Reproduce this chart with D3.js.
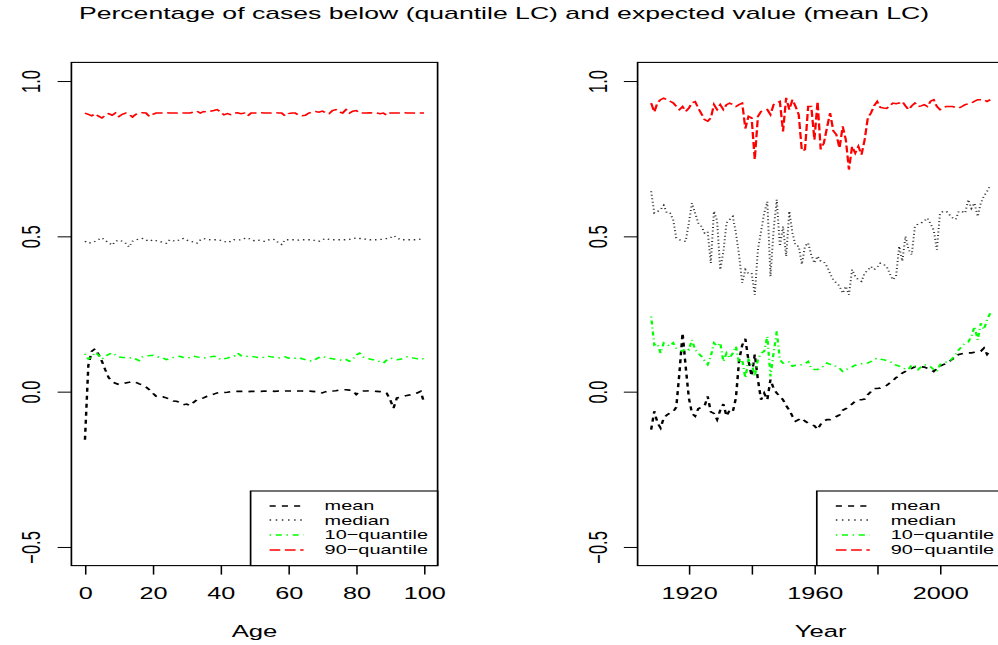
<!DOCTYPE html>
<html>
<head>
<meta charset="utf-8">
<script src="https://cdn.jsdelivr.net/npm/d3@7"></script>
<style>
  html, body { margin: 0; padding: 0; background: #fff; overflow: hidden; }
  svg text { font-family: "Liberation Sans", Arial, Helvetica, sans-serif; fill: #000; }
</style>
</head>
<body>
<svg id="chart" width="998" height="645"></svg>
<script>
// ---- data: left panel (by age) ----
const ages = d3.range(0, 101);
const ageMean = [
  -0.155, 0.085, 0.130, 0.138, 0.120, 0.098, 0.070, 0.045, 0.033, 0.027,
  0.023, 0.025, 0.028, 0.030, 0.033, 0.030, 0.025, 0.022, 0.015, 0.006,
  -0.005, -0.015, -0.018, -0.017, -0.020, -0.025, -0.030, -0.031, -0.035, -0.042,
  -0.040, -0.045, -0.035, -0.026, -0.023, -0.020, -0.015, -0.012, -0.008, -0.004,
  -0.002, -0.003, -0.002, 0.000, 0.000, 0.001, 0.001, 0.001, 0.000, 0.001,
  0.001, 0.001, 0.001, 0.002, 0.001, 0.002, 0.001, 0.002, 0.001, 0.002,
  0.002, 0.002, 0.001, 0.002, 0.002, 0.001, 0.002, 0.001, 0.000, 0.000,
  -0.004, 0.000, 0.003, 0.002, 0.003, 0.005, 0.006, 0.006, 0.005, 0.004,
  -0.009, 0.001, 0.002, 0.002, 0.003, 0.002, 0.001, 0.000, 0.001, -0.005,
  -0.026, -0.053, -0.020, -0.018, -0.015, -0.012, -0.010, -0.006, -0.004, 0.001,
  -0.035
];
const ageMedian = [
  0.484, 0.478, 0.480, 0.484, 0.490, 0.495, 0.486, 0.480, 0.472, 0.484,
  0.488, 0.484, 0.478, 0.466, 0.484, 0.488, 0.492, 0.493, 0.488, 0.484,
  0.489, 0.486, 0.484, 0.480, 0.478, 0.489, 0.486, 0.484, 0.490, 0.493,
  0.488, 0.484, 0.482, 0.478, 0.488, 0.493, 0.490, 0.489, 0.489, 0.489,
  0.487, 0.484, 0.480, 0.484, 0.489, 0.488, 0.489, 0.493, 0.495, 0.489,
  0.486, 0.488, 0.486, 0.484, 0.488, 0.491, 0.489, 0.480, 0.474, 0.489,
  0.489, 0.489, 0.489, 0.488, 0.489, 0.489, 0.489, 0.489, 0.486, 0.484,
  0.489, 0.493, 0.490, 0.489, 0.489, 0.489, 0.489, 0.489, 0.490, 0.493,
  0.495, 0.493, 0.493, 0.490, 0.489, 0.489, 0.489, 0.490, 0.491, 0.493,
  0.495, 0.502, 0.496, 0.489, 0.489, 0.489, 0.489, 0.489, 0.489, 0.491,
  0.489
];
const ageQ10 = [
  0.122, 0.105, 0.112, 0.126, 0.118, 0.105, 0.114, 0.120, 0.125, 0.118,
  0.112, 0.110, 0.110, 0.108, 0.110, 0.105, 0.100, 0.112, 0.114, 0.116,
  0.117, 0.114, 0.110, 0.108, 0.103, 0.108, 0.110, 0.112, 0.114, 0.110,
  0.108, 0.110, 0.114, 0.112, 0.110, 0.108, 0.110, 0.112, 0.114, 0.112,
  0.103, 0.106, 0.108, 0.112, 0.114, 0.124, 0.116, 0.112, 0.114, 0.114,
  0.112, 0.110, 0.108, 0.112, 0.114, 0.112, 0.110, 0.108, 0.110, 0.112,
  0.108, 0.110, 0.108, 0.110, 0.106, 0.103, 0.100, 0.098, 0.104, 0.110,
  0.114, 0.110, 0.108, 0.106, 0.104, 0.103, 0.100, 0.103, 0.098, 0.104,
  0.118, 0.124, 0.112, 0.108, 0.105, 0.103, 0.100, 0.096, 0.092, 0.102,
  0.108, 0.106, 0.103, 0.104, 0.108, 0.112, 0.110, 0.108, 0.106, 0.108,
  0.104
];
const ageQ90 = [
  0.897, 0.893, 0.888, 0.895, 0.887, 0.881, 0.890, 0.895, 0.890, 0.897,
  0.886, 0.893, 0.897, 0.893, 0.884, 0.893, 0.897, 0.898, 0.897, 0.886,
  0.893, 0.897, 0.897, 0.897, 0.898, 0.897, 0.897, 0.897, 0.896, 0.897,
  0.897, 0.897, 0.900, 0.903, 0.897, 0.902, 0.900, 0.903, 0.905, 0.908,
  0.900, 0.891, 0.895, 0.892, 0.897, 0.898, 0.895, 0.897, 0.888, 0.897,
  0.897, 0.897, 0.898, 0.897, 0.897, 0.897, 0.898, 0.897, 0.897, 0.888,
  0.895, 0.897, 0.897, 0.890, 0.888, 0.890, 0.897, 0.900, 0.902, 0.900,
  0.903, 0.898, 0.895, 0.905, 0.908, 0.900, 0.897, 0.908, 0.897, 0.903,
  0.905, 0.897, 0.897, 0.897, 0.898, 0.897, 0.897, 0.895, 0.897, 0.890,
  0.897, 0.897, 0.897, 0.897, 0.898, 0.897, 0.897, 0.897, 0.896, 0.897,
  0.897
];

// ---- data: right panel (by year) ----
const years = d3.range(1908, 2017);
const yearMean = [
  -0.122, -0.063, -0.100, -0.117, -0.085, -0.075, -0.069, -0.065, -0.050, 0.060,
  0.189, 0.080, -0.020, -0.070, -0.079, -0.055, -0.050, -0.047, -0.015, -0.065,
  -0.070, -0.090, -0.060, -0.040, -0.079, -0.060, -0.065, -0.020, 0.100, 0.150,
  0.170, 0.100, 0.050, 0.120, 0.039, -0.026, -0.005, -0.026, 0.039, 0.010,
  -0.005, -0.015, -0.026, -0.045, -0.060, -0.079, -0.095, -0.090, -0.085, -0.095,
  -0.101, -0.105, -0.110, -0.122, -0.105, -0.095, -0.090, -0.090, -0.085, -0.080,
  -0.075, -0.060, -0.055, -0.047, -0.040, -0.030, -0.026, -0.026, -0.024, -0.010,
  0.000, 0.010, 0.010, 0.012, 0.017, 0.020, 0.028, 0.035, 0.045, 0.050,
  0.060, 0.065, 0.071, 0.075, 0.080, 0.082, 0.080, 0.079, 0.075, 0.071,
  0.065, 0.075, 0.082, 0.087, 0.090, 0.097, 0.105, 0.110, 0.120, 0.122,
  0.124, 0.125, 0.125, 0.127, 0.128, 0.130, 0.140, 0.120, 0.135
];
const yearMedian = [
  0.645, 0.575, 0.580, 0.586, 0.600, 0.575, 0.575, 0.554, 0.495, 0.489,
  0.486, 0.484, 0.543, 0.607, 0.575, 0.543, 0.532, 0.511, 0.516, 0.414,
  0.581, 0.550, 0.393, 0.450, 0.543, 0.554, 0.564, 0.511, 0.440, 0.350,
  0.393, 0.380, 0.382, 0.312, 0.457, 0.516, 0.575, 0.612, 0.371, 0.520,
  0.618, 0.468, 0.532, 0.436, 0.581, 0.511, 0.470, 0.468, 0.410, 0.468,
  0.479, 0.440, 0.414, 0.436, 0.420, 0.418, 0.403, 0.380, 0.360, 0.350,
  0.340, 0.317, 0.339, 0.312, 0.393, 0.371, 0.360, 0.355, 0.382, 0.390,
  0.403, 0.393, 0.400, 0.414, 0.410, 0.403, 0.380, 0.360, 0.371, 0.468,
  0.420, 0.500, 0.457, 0.441, 0.532, 0.540, 0.543, 0.550, 0.559, 0.540,
  0.520, 0.457, 0.575, 0.580, 0.581, 0.570, 0.560, 0.554, 0.581, 0.580,
  0.575, 0.618, 0.590, 0.607, 0.564, 0.607, 0.630, 0.645, 0.663
];
const yearQ10 = [
  0.242, 0.150, 0.155, 0.124, 0.157, 0.152, 0.146, 0.157, 0.140, 0.135,
  0.130, 0.140, 0.135, 0.167, 0.135, 0.124, 0.114, 0.100, 0.087, 0.114,
  0.157, 0.146, 0.157, 0.097, 0.124, 0.108, 0.124, 0.146, 0.092, 0.103,
  0.044, 0.103, 0.092, 0.049, 0.103, 0.124, 0.130, 0.178, 0.049, 0.124,
  0.194, 0.103, 0.092, 0.097, 0.095, 0.082, 0.085, 0.084, 0.087, 0.090,
  0.097, 0.075, 0.071, 0.071, 0.078, 0.082, 0.092, 0.088, 0.087, 0.080,
  0.075, 0.065, 0.070, 0.076, 0.080, 0.085, 0.088, 0.090, 0.092, 0.092,
  0.097, 0.103, 0.108, 0.105, 0.103, 0.100, 0.097, 0.092, 0.085, 0.082,
  0.076, 0.073, 0.071, 0.087, 0.082, 0.071, 0.080, 0.087, 0.084, 0.080,
  0.071, 0.065, 0.087, 0.092, 0.095, 0.097, 0.108, 0.120, 0.135, 0.146,
  0.157, 0.160, 0.178, 0.210, 0.167, 0.220, 0.200, 0.232, 0.253
];
const yearQ90 = [
  0.929, 0.900, 0.930, 0.940, 0.945, 0.940, 0.935, 0.930, 0.918, 0.908,
  0.918, 0.902, 0.913, 0.930, 0.934, 0.913, 0.895, 0.876, 0.871, 0.881,
  0.924, 0.908, 0.924, 0.908, 0.924, 0.929, 0.924, 0.918, 0.924, 0.929,
  0.847, 0.886, 0.881, 0.747, 0.886, 0.902, 0.905, 0.908, 0.892, 0.924,
  0.929, 0.934, 0.838, 0.946, 0.908, 0.940, 0.918, 0.892, 0.775, 0.779,
  0.918, 0.918, 0.811, 0.934, 0.780, 0.800, 0.850, 0.897, 0.840, 0.827,
  0.784, 0.854, 0.811, 0.715, 0.790, 0.768, 0.790, 0.763, 0.811, 0.881,
  0.897, 0.920, 0.934, 0.915, 0.913, 0.912, 0.920, 0.929, 0.927, 0.929,
  0.934, 0.920, 0.908, 0.920, 0.929, 0.918, 0.920, 0.924, 0.918, 0.935,
  0.940, 0.918, 0.908, 0.913, 0.918, 0.918, 0.918, 0.915, 0.913, 0.918,
  0.924, 0.927, 0.929, 0.935, 0.940, 0.940, 0.940, 0.934, 0.940
];

const seriesNames = ["mean", "median", "10\u2212quantile", "90\u2212quantile"];
const yTicks = [-0.5, 0, 0.5, 1];
const yTickLabels = ["\u22120.5", "0.0", "0.5", "1.0"];
const ageTicks = [0, 20, 40, 60, 80, 100];
const ageTickLabels = ["0", "20", "40", "60", "80", "100"];
const yearTicks = [1920, 1940, 1960, 1980, 2000, 2020];
const yearTickLabels = ["1920", "", "1960", "", "2000", ""];
const title = "Percentage of cases below (quantile LC) and expected value (mean LC)";

// ---- layout ----
// the picture is stretched sideways, so draw in narrow units and scale x
const SX = 1.53;
const px = v => v / SX;
const plotTop = 62.4, plotBottom = 565.6, plotW = 366.2;

const styles = [
  {color: "#000000", dash: "4,4", width: 1.6, legendDash: "4,4"},
  {color: "#333333", dash: "1,2.5", width: 1.3, legendDash: "1,3"},
  {color: "#00ff00", dash: "1,3,4,3", width: 1.5, legendDash: "1,3,4,3"},
  {color: "#ff0000", dash: "7,3", width: 1.5, legendDash: "7,3"}
];

const svg = d3.select("#chart");
const root = svg.append("g").attr("transform", `scale(${SX},1)`);

root.append("text")
  .attr("x", px(504)).attr("y", 19)
  .attr("text-anchor", "middle")
  .attr("font-size", 17.4)
  .text(title);

function drawPanel(opt) {
  const x = d3.scaleLinear()
    .domain(opt.xDomain)
    .range([px(opt.left), px(opt.left + plotW)]);
  const y = d3.scaleLinear()
    .domain([-0.56, 1.06])
    .range([plotBottom, plotTop]);

  const g = root.append("g");

  opt.series.forEach(function (s, i) {
    const st = styles[i];
    g.append("path")
      .datum(s)
      .attr("fill", "none")
      .attr("stroke", st.color)
      .attr("stroke-width", st.width)
      .attr("stroke-dasharray", st.dash)
      .attr("d", d3.line()
        .x(function (d, j) { return x(opt.xs[j]); })
        .y(function (d) { return y(d); }));
  });

  // X axis
  const xAxis = g.append("g")
    .attr("transform", `translate(0, ${plotBottom})`)
    .call(d3.axisBottom(x).tickValues(opt.ticks)
      .tickFormat(function (d, i) { return opt.tickLabels[i]; })
      .tickSize(9).tickSizeOuter(0));
  xAxis.attr("font-size", 16.5).attr("font-family", null);
  xAxis.select(".domain").remove();
  xAxis.selectAll(".tick line").attr("stroke", "#000");
  xAxis.selectAll(".tick text").attr("y", 33.4).attr("dy", null);

  // Y axis
  const yAxis = g.append("g")
    .attr("transform", `translate(${px(opt.left)}, 0)`)
    .call(d3.axisLeft(y).tickValues(yTicks)
      .tickFormat(function (d, i) { return yTickLabels[i]; })
      .tickSize(9).tickSizeOuter(0));
  yAxis.attr("font-size", 16.5).attr("font-family", null);
  yAxis.select(".domain").remove();
  yAxis.selectAll(".tick line").attr("stroke", "#000");
  yAxis.selectAll(".tick text")
    .attr("x", null).attr("dy", null)
    .attr("text-anchor", "middle")
    .attr("transform", `translate(${px(-31)}, 0) rotate(-90)`);

  // box
  g.append("rect")
    .attr("x", px(opt.left)).attr("y", plotTop)
    .attr("width", px(plotW)).attr("height", plotBottom - plotTop)
    .attr("fill", "none").attr("stroke", "#000").attr("stroke-width", 1.1);

  // axis title
  g.append("text")
    .attr("x", px(opt.left + plotW / 2)).attr("y", 637)
    .attr("text-anchor", "middle")
    .attr("font-size", 16.8)
    .text(opt.xLabel);

  // legend
  const legW = 187, legTop = 491;
  const lx = opt.left + plotW - legW;
  const lg = g.append("g");
  lg.append("rect")
    .attr("x", px(lx)).attr("y", legTop)
    .attr("width", px(legW)).attr("height", plotBottom - legTop)
    .attr("fill", "#fff").attr("stroke", "#000").attr("stroke-width", 1.1);
  seriesNames.forEach(function (name, i) {
    const base = 510 + i * 14.7;
    lg.append("line")
      .attr("x1", px(lx + 19)).attr("x2", px(lx + 53))
      .attr("y1", Math.round(base - 4.5)).attr("y2", Math.round(base - 4.5))
      .attr("stroke", styles[i].color)
      .attr("stroke-width", 1.3)
      .attr("stroke-dasharray", styles[i].legendDash);
    lg.append("text")
      .attr("x", px(lx + 74)).attr("y", base)
      .attr("font-size", 13)
      .text(name);
  });
}

drawPanel({
  left: 71.4,
  xDomain: [-4, 104],
  xs: ages,
  series: [ageMean, ageMedian, ageQ10, ageQ90],
  ticks: ageTicks,
  tickLabels: ageTickLabels,
  xLabel: "Age"
});

drawPanel({
  left: 637.6,
  xDomain: [1903.68, 2020.32],
  xs: years,
  series: [yearMean, yearMedian, yearQ10, yearQ90],
  ticks: yearTicks,
  tickLabels: yearTickLabels,
  xLabel: "Year"
});
</script>
</body>
</html>
